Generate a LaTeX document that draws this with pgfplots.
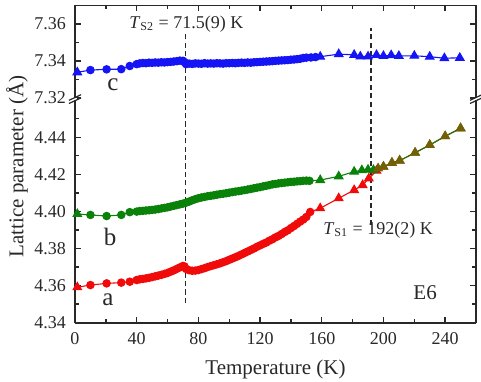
\documentclass[border=0pt]{standalone}
\usepackage{fontspec}
\setmainfont{Liberation Serif}
\usepackage{pgfplots}
\usepackage{pgfplotstable}
\pgfplotsset{compat=1.18}

\definecolor{cblue}{RGB}{20,20,245}
\definecolor{cgreen}{RGB}{10,130,10}
\definecolor{cred}{RGB}{240,10,10}
\definecolor{colive}{RGB}{115,95,5}
\definecolor{axgray}{RGB}{40,40,40}

\pgfplotstableread{
T v m
1.5 7.3339 t
10 7.3351 c
20.5 7.3355 c
30 7.3356 c
35.5 7.3373 c
40 7.3383 c
42 7.3387 c
44 7.3389 c
46 7.3388 c
48 7.3391 c
50 7.3390 c
52 7.3392 c
54 7.3391 c
56 7.3393 c
58 7.3392 c
60 7.3394 c
62 7.3395 c
64 7.3397 c
66 7.3399 c
68 7.3402 c
70 7.3401 c
71 7.3394 c
72 7.3383 c
74 7.3386 c
76 7.3384 c
78 7.3387 c
80 7.3386 c
82 7.3385 c
84 7.3388 c
86 7.3386 c
88 7.3387 c
90 7.3386 c
92 7.3388 c
94 7.3387 c
96 7.3386 c
98 7.3388 c
100 7.3388 c
102 7.3389 c
104 7.3388 c
106 7.3390 c
108 7.3391 c
110 7.3390 c
112 7.3392 c
114 7.3391 c
116 7.3393 c
118 7.3394 c
120 7.3395 c
122 7.3396 c
124 7.3397 c
126 7.3398 c
128 7.3399 c
130 7.3401 c
132 7.3402 c
134 7.3403 c
136 7.3404 c
138 7.3405 c
140 7.3407 c
142 7.3408 c
144 7.3410 c
146 7.3412 c
148 7.3416 c
150 7.3418 c
153 7.3419 c
156 7.3421 c
159 7.3423 t
171 7.3437 t
181 7.3433 t
185 7.3424 t
190 7.3424 t
195.5 7.3432 t
200 7.3427 t
205 7.3431 t
210 7.3427 t
220 7.3428 t
230 7.3423 t
239.5 7.3415 t
249.5 7.3417 t
}\dataC

\pgfplotstableread{
T v m
1.5 4.3986 t
10 4.3981 c
20.5 4.3975 c
30 4.3981 c
35.5 4.3996 c
40 4.3999 c
42 4.4002 c
44 4.4003 c
46 4.4005 c
48 4.4006 c
50 4.4008 c
52 4.4010 c
54 4.4013 c
56 4.4016 c
58 4.4019 c
60 4.4022 c
62 4.4026 c
64 4.4030 c
66 4.4034 c
68 4.4038 c
70 4.4042 c
72 4.4047 c
74 4.4053 c
76 4.4060 c
78 4.4066 c
80 4.4071 c
82 4.4075 c
84 4.4078 c
86 4.4082 c
88 4.4084 c
90 4.4087 c
92 4.4090 c
94 4.4093 c
96 4.4095 c
98 4.4098 c
100 4.4101 c
102 4.4104 c
104 4.4107 c
106 4.4109 c
108 4.4112 c
110 4.4115 c
112 4.4118 c
114 4.4121 c
116 4.4125 c
118 4.4128 c
120 4.4131 c
122 4.4135 c
124 4.4138 c
126 4.4142 c
128 4.4146 c
130 4.4148 c
132 4.4151 c
134 4.4153 c
136 4.4155 c
138 4.4157 c
140 4.4159 c
142 4.4160 c
144 4.4162 c
146 4.4163 c
148 4.4165 c
150 4.4166 c
152 4.4165 c
159 4.4169 t
171 4.4189 t
181 4.4214 t
186 4.4222 t
190 4.4225 t
193.5 4.4223 t
196.5 4.4232 o
200 4.4241 o
205.5 4.4262 o
210.5 4.4274 o
220.5 4.4316 o
230 4.4358 o
240 4.4405 o
250 4.4448 o
}\dataB

\pgfplotstableread{
T v m
1.5 4.3591 t
10 4.3603 c
20.5 4.3612 c
30 4.3616 c
35.5 4.3621 c
40 4.3630 c
42 4.3634 c
44 4.3636 c
46 4.3639 c
48 4.3642 c
50 4.3646 c
52 4.3650 c
54 4.3654 c
56 4.3658 c
58 4.3663 c
60 4.3668 c
62 4.3675 c
64 4.3682 c
66 4.3690 c
68 4.3698 c
70 4.3706 c
71 4.3703 c
72 4.3690 c
74 4.3683 c
76 4.3680 c
78 4.3681 c
80 4.3684 c
82 4.3689 c
84 4.3694 c
86 4.3700 c
88 4.3705 c
90 4.3710 c
92 4.3715 c
94 4.3720 c
96 4.3726 c
98 4.3732 c
100 4.3739 c
102 4.3746 c
104 4.3753 c
106 4.3760 c
108 4.3768 c
110 4.3776 c
112 4.3784 c
114 4.3792 c
116 4.3800 c
118 4.3809 c
120 4.3817 c
122 4.3825 c
124 4.3832 c
126 4.3842 c
128 4.3850 c
130 4.3860 c
132 4.3868 c
134 4.3878 c
136 4.3889 c
138 4.3898 c
140 4.3910 c
142 4.3921 c
144 4.3933 c
146 4.3945 c
148 4.3956 c
150 4.3970 c
152.5 4.3997 c
159 4.4017 t
171 4.4071 t
181 4.4115 t
186.5 4.4142 t
190.5 4.4178 t
195.5 4.4219 t
200 4.4241 o
205.5 4.4262 o
210.5 4.4274 o
220.5 4.4316 o
230 4.4358 o
240 4.4405 o
250 4.4448 o
}\dataA

\pgfplotsset{
  base/.style={
    width=200.5pt, scale only axis,
    xmin=0, xmax=260,
    xtick={0,40,80,120,160,200,240},
    minor xtick={20,60,100,140,180,220,260},
    tick label style={font=\fontsize{9}{10}\selectfont, text=axgray},
    /pgf/number format/assume math mode=true,
    yticklabel style={/pgf/number format/fixed, /pgf/number format/fixed zerofill, /pgf/number format/precision=2, xshift=-1pt},
    axis line style={line width=0.8pt, axgray},
    every tick/.style={axgray, line width=0.7pt},
    major tick length=3pt, minor tick length=1.8pt,
  },
  ser/.style={color=#1, line width=0.55pt, scatter, scatter src=explicit symbolic,
    scatter/classes={
      c={mark=*, mark size=1.85pt, draw=#1, fill=#1},
      t={mark=triangle*, mark size=2.4pt, draw=#1, fill=#1},
      o={mark=triangle*, mark size=2.4pt, draw=colive, fill=colive}}},
  vdash/.style={axgray, dash pattern=on 2.6pt off 1.6pt, line width=0.75pt},
}

\begin{document}
\begin{tikzpicture}
\path[use as bounding box] (-37.5pt,-29.15pt) rectangle (203pt,161.35pt);

% lower axis
\begin{axis}[base, at={(0pt,0pt)}, anchor=south west,
  height=111.3pt, ymin=4.34, ymax=4.46,
  axis x line*=bottom, axis y line*=box,
  tick align=inside, ytick pos=both,
  ytick={4.34,4.36,4.38,4.40,4.42,4.44},
  minor ytick={4.35,4.37,4.39,4.41,4.43,4.45},
  xticklabel style={yshift=-1.5pt},
]
\addplot[vdash] coordinates {(71.5,4.3506) (71.5,4.46)};
\addplot[vdash] coordinates {(192,4.3927) (192,4.46)};
\addplot[ser=cred] table[x=T, y=v, meta=m] {\dataA};
\addplot[ser=cgreen] table[x=T, y=v, meta=m] {\dataB};
\node[font=\fontsize{12.5}{14}\selectfont, inner sep=0pt, text=axgray] at (axis cs:21.4,4.3522) {a};
\node[font=\fontsize{12.5}{14}\selectfont, inner sep=0pt, text=axgray] at (axis cs:22.7,4.3862) {b};
\node[font=\fontsize{10.5}{12}\selectfont, inner sep=0pt, text=axgray] at (axis cs:227,4.3560) {E6};
\node[font=\fontsize{9}{10}\selectfont, inner sep=0pt, anchor=base west, text=axgray] at (axis cs:160.8,4.3873) {\textit{T}\textsubscript{S1} = 192(2) K};
\end{axis}

% upper axis
\begin{axis}[base, at={(0pt,112.3pt)}, anchor=south west,
  height=46.4pt, ymin=7.32, ymax=7.37,
  axis x line*=top, axis y line*=box,
  tick align=inside, ytick pos=both,
  xticklabels={},
  ytick={7.32,7.34,7.36},
  minor ytick={7.33,7.35},
]
\addplot[vdash] coordinates {(71.5,7.32) (71.5,7.3556)};
\addplot[vdash] coordinates {(192,7.32) (192,7.3577)};
\addplot[ser=cblue] table[x=T, y=v, meta=m] {\dataC};
\node[font=\fontsize{12.5}{14}\selectfont, inner sep=0pt, text=axgray] at (axis cs:24.6,7.3270) {c};
\node[font=\fontsize{9}{10}\selectfont, inner sep=0pt, anchor=base west, text=axgray] at (axis cs:35,7.3576) {\textit{T}\textsubscript{S2} = 71.5(9) K};
\end{axis}

% axis break marks
\foreach \xx in {0pt,200.5pt} {
  \fill[white] ([xshift=-1pt]\xx,111.3pt) rectangle ([xshift=1pt]\xx,112.3pt);
  \draw[axgray, line width=0.6pt] ([xshift=-3pt]\xx,109.6pt) -- ([xshift=3pt]\xx,112.4pt);
  \draw[axgray, line width=0.6pt] ([xshift=-3pt]\xx,111.2pt) -- ([xshift=3pt]\xx,114.0pt);
}

% axis labels
\node[rotate=90, font=\fontsize{10.5}{12}\selectfont, text=axgray] at (-29pt,78.1pt) {Lattice parameter (Å)};
\node[font=\fontsize{10.5}{12}\selectfont, text=axgray] at (100.25pt,-23.15pt) {Temperature (K)};
\end{tikzpicture}
\end{document}
